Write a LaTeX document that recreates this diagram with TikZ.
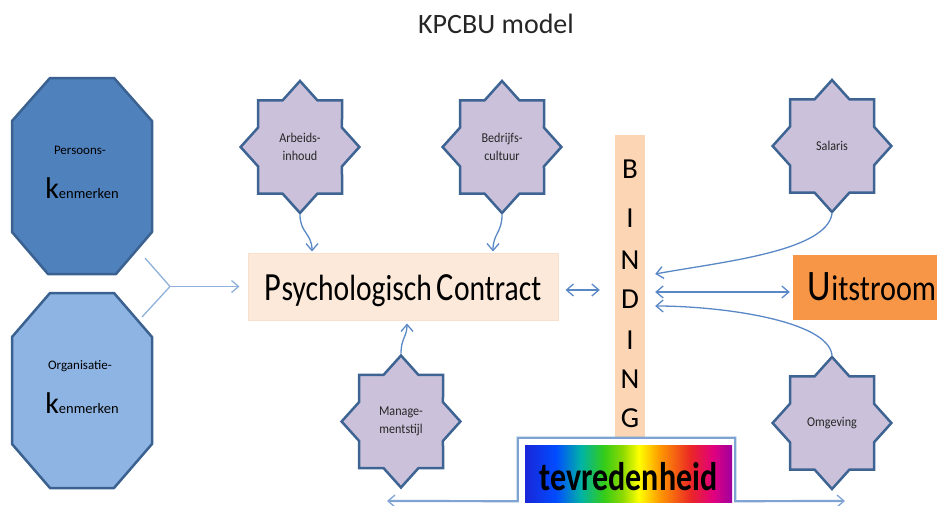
\documentclass[tikz,border=0pt]{standalone}
\usepackage{fontspec}
\setmainfont{Carlito}
\usetikzlibrary{arrows.meta,shapes.geometric,calc}

\definecolor{octdark}{HTML}{4F81BD}
\definecolor{octlight}{HTML}{8EB4E3}
\definecolor{octline}{HTML}{3A6190}
\definecolor{starfill}{HTML}{CCC1DA}
\definecolor{starline}{HTML}{3D6493}
\definecolor{peach}{HTML}{FDE9D9}
\definecolor{peachline}{HTML}{F9E0CC}
\definecolor{bindfill}{HTML}{FCD5B5}
\definecolor{orangefill}{HTML}{F79646}
\definecolor{linkblue}{HTML}{5A88C6}
\definecolor{mergeblue}{HTML}{8FB0DB}
\definecolor{frameblue}{HTML}{7FA3D3}
\definecolor{textgrey}{HTML}{262626}

% rainbow fill of the satisfaction bar
\pgfdeclarehorizontalshading{rainbow}{100bp}{%
  rgb(0bp)=(0.10,0.15,0.85); rgb(25bp)=(0.10,0.15,0.85);
  rgb(32.5bp)=(0,0.30,1); rgb(38.5bp)=(0,0.70,0.65);
  rgb(44bp)=(0.20,0.80,0.10); rgb(48.5bp)=(0.55,0.85,0);
  rgb(52.5bp)=(1,1,0); rgb(57.5bp)=(1,0.60,0);
  rgb(65bp)=(0.92,0.15,0.15); rgb(70.5bp)=(0.88,0,0.50);
  rgb(75bp)=(0.62,0,0.62); rgb(100bp)=(0.62,0,0.62)}

\tikzset{
  octshape/.style={draw=octline, line width=2.5pt, line join=round},
  smalltxt/.style={anchor=base, inner sep=0pt, text=textgrey, font=\fontsize{13}{13}\selectfont},
  kentxt/.style={anchor=base, inner sep=0pt, text=black},
  pstar/.style={star, star points=8, star point ratio=1.307, minimum size=132pt,
    fill=starfill, draw=starline, line width=2.5pt, line join=miter, inner sep=0pt,
    align=center, text=black!85, font=\fontsize{13.5}{18}\selectfont},
  tipbarb/.tip={Straight Barb[length=7pt,width=12pt,line width=1.3pt]},
  link/.style={draw=linkblue, line width=1.3pt, -tipbarb},
  dlink/.style={draw=linkblue, line width=1.3pt, tipbarb-tipbarb},
  mergeline/.style={draw=mergeblue, line width=1.3pt},
  bindletter/.style={anchor=base, inner sep=0pt, text=black, font=\fontsize{29}{29}\selectfont},
}

% eight-pointed star with its label, slightly narrower than tall
\newcommand\labelstar[4]{%
  \begin{scope}[shift={(#2,#3)}, xscale=0.9]
    \node[pstar, transform shape] (#1) at (0,0) {#4};
  \end{scope}}

\begin{document}
\begin{tikzpicture}[x=1pt,y=-1pt]
  \useasboundingbox (0,0) rectangle (938,506);

  % title
  \node[anchor=base, inner sep=0pt, text=textgrey, font=\fontsize{28}{28}\selectfont]
    (title) at (496,33) {KPCBU model};

  % person characteristics
  \draw[octshape, fill=octdark] (12,121) -- (50,78) -- (114,78) -- (152,121)
    -- (152,232) -- (116,274) -- (48,274) -- (12,232) -- cycle;
  \node[smalltxt, text=black] (pers) at (80,154) {Persoons-};
  \node[kentxt] (persk) at (82,198)
    {{\fontsize{30}{30}\selectfont k}{\fontsize{14.5}{16}\selectfont enmerken}};

  % organisation characteristics
  \draw[octshape, fill=octlight] (12,337) -- (50,293) -- (114,293) -- (152,337)
    -- (152,444) -- (114,488) -- (50,488) -- (12,444) -- cycle;
  \node[smalltxt, text=black] (orga) at (80,369) {Organisatie-};
  \node[kentxt] (orgak) at (82,413)
    {{\fontsize{30}{30}\selectfont k}{\fontsize{14.5}{16}\selectfont enmerken}};

  % psychological contract
  \node[fill=peach, draw=peachline, line width=1pt, minimum width=310pt, minimum height=67pt,
        inner sep=0pt, text height=30pt, text depth=3pt] (psy) at (403,286.5)
    {\scalebox{0.81}[1]{{\fontsize{40}{40}\selectfont P}{\fontsize{36.5}{40}\selectfont sychologisch\,}{\fontsize{40}{40}\selectfont C}{\fontsize{36.5}{40}\selectfont ontract}}};

  % binding column
  \node[fill=bindfill, minimum width=30pt, minimum height=302pt, inner sep=0pt] (bind) at (630,286) {};
  \foreach \ch/\yy in {B/178, I/227, N/269, D/308, I/349, N/388, G/427}
    \node[bindletter] (bl\yy) at (630,\yy) {\ch};

  % outflow
  \node[fill=orangefill, minimum width=144pt, minimum height=65pt, inner sep=0pt,
        text height=28pt, text depth=3pt] (uit) at (865,287.5)
    {\hspace*{14pt}\scalebox{0.84}[1]{{\fontsize{43.5}{44}\selectfont U}{\fontsize{36}{40}\selectfont itstroom}}};

  % satisfaction bar
  \node[shading=rainbow, minimum width=207pt, minimum height=57pt, inner sep=0pt,
        text height=36pt, text depth=3pt, font=\bfseries] (tev) at (628.5,473.5)
    {\scalebox{0.8}[1]{\fontsize{40}{40}\selectfont tevredenheid}};

  % influencing factors
  \labelstar{arb}{300}{147}{Arbeids-\\inhoud}
  \labelstar{bed}{502}{147}{Bedrijfs-\\cultuur}
  \labelstar{sal}{832}{146}{Salaris}
  \labelstar{man}{401}{421.5}{Manage-\\mentstijl}
  \labelstar{omg}{832}{423}{Omgeving}

  % merging of both characteristics into the contract
  \coordinate (mgA) at (145,258);
  \coordinate (mgB) at (142,317);
  \coordinate (mg) at (170,286.5);
  \draw[mergeline] (mgA) -- (mg);
  \draw[mergeline] (mgB) -- (mg);
  \draw[link, draw=mergeblue] (mg) -- ([xshift=-8pt]psy.west);

  % factors acting on the contract
  \draw[link] (arb.south) .. controls +(0,18) and +(0,-18) .. ([shift={(-91,-1)}]psy.north);
  \draw[link] (bed.south) .. controls +(0,18) and +(0,-18) .. ([shift={(90,-1)}]psy.north);
  \draw[link] (man.north) .. controls +(0,-16) and +(0,14) .. ([shift={(4,3)}]psy.south);

  % contract, binding and outflow
  \draw[dlink] ([shift={(7,3.5)}]psy.east) -- ([shift={(-15,4)}]bind.west);
  \draw[dlink] ([shift={(10,6)}]bind.east) -- ([shift={(-3,4.5)}]uit.west);
  \draw[link] (sal.south) .. controls +(-6,38) and +(65,-12) .. ([shift={(10,-12)}]bind.east);
  \draw[link] (omg.north) .. controls +(-4,-35) and +(65,0) .. ([shift={(10,20)}]bind.east);

  % frame around satisfaction, pointing both ways
  \coordinate (tevL) at (387,501);
  \coordinate (tevR) at (845,501);
  \draw[draw=frameblue, line width=2.2pt, tipbarb-tipbarb]
    (tevL) -- ($(tev.south west)+(-7,-1)$) -- ($(tev.north west)+(-7,-7)$)
    -- ($(tev.north east)+(3,-7)$) -- ($(tev.south east)+(3,-1)$) -- (tevR);
\end{tikzpicture}
\end{document}
